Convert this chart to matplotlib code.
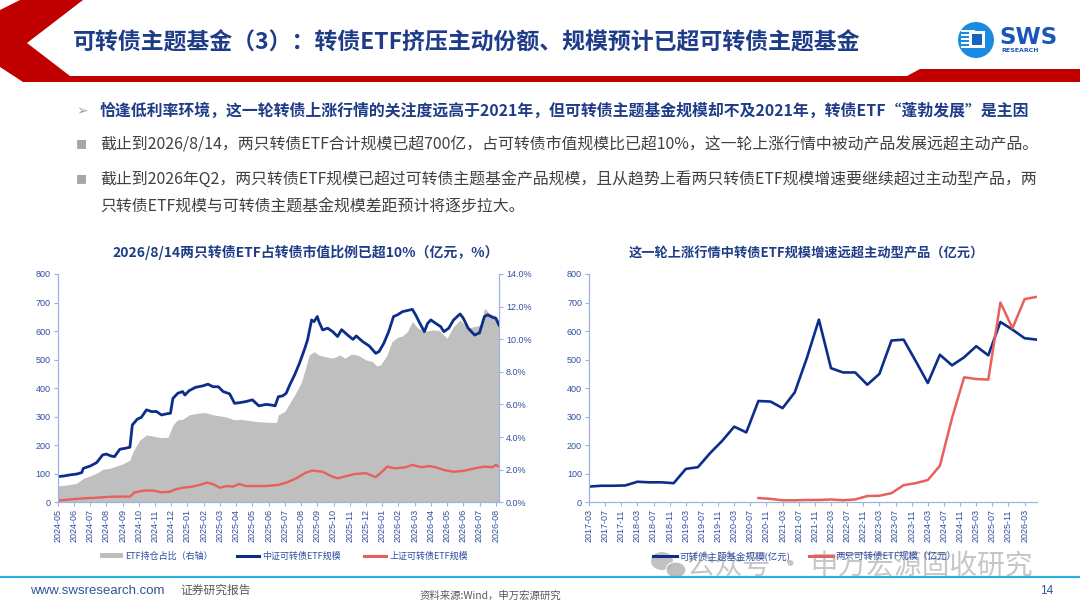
import matplotlib
matplotlib.use('Agg')
import matplotlib.pyplot as plt
from matplotlib.patches import Polygon, Circle, Rectangle, Patch, Ellipse
from matplotlib.lines import Line2D

plt.rcParams['font.family'] = ['Noto Sans CJK SC', 'DejaVu Sans']

# ---------------- data: left chart (x = months since 2024-05) ----------------
left_tick_labels = ['2024-05', '2024-06', '2024-07', '2024-08', '2024-09', '2024-10', '2024-11', '2024-12',
                    '2025-01', '2025-02', '2025-03', '2025-04', '2025-05', '2025-06', '2025-07', '2025-08',
                    '2025-09', '2025-10', '2025-11', '2025-12', '2026-01', '2026-02', '2026-03', '2026-04',
                    '2026-05', '2026-06', '2026-07', '2026-08']

zz_month = [0.0, 0.35, 0.76, 1.17, 1.48, 1.58, 2.0, 2.4, 2.77, 3.0, 3.3, 3.5, 3.83, 4.14, 4.45, 4.6, 4.9,
            5.16, 5.47, 5.78, 6.09, 6.4, 6.7, 6.95, 7.1, 7.4, 7.7, 7.84, 8.1, 8.5, 8.95, 9.26, 9.57, 9.9,
            10.2, 10.6, 10.9, 11.2, 11.6, 12.0, 12.4, 12.85, 13.15, 13.4, 13.6, 13.87, 14.08, 14.3, 14.6,
            14.9, 15.2, 15.4, 15.65, 15.8, 16.0, 16.1, 16.33, 16.64, 16.95, 17.25, 17.5, 17.87, 18.2, 18.4,
            18.8, 19.2, 19.6, 19.8, 20.1, 20.4, 20.7, 20.95, 21.25, 21.55, 21.86, 22.06, 22.27, 22.6, 22.8,
            23.0, 23.3, 23.6, 23.8, 24.1, 24.4, 24.8, 25.0, 25.3, 25.7, 26.0, 26.3, 26.5, 26.8, 27.0, 27.2]
zz_etf = [90, 92, 96, 99, 104, 119, 127, 139, 166, 169, 162, 160, 186, 189, 193, 271, 291,
          298, 324, 318, 318, 306, 310, 312, 364, 382, 388, 376, 391, 403, 408, 414, 405, 405,
          388, 380, 347, 349, 353, 359, 338, 343, 341, 338, 370, 373, 382, 411, 446,
          487, 534, 569, 639, 633, 651, 633, 604, 610, 598, 581, 605, 586, 571, 583,
          563, 548, 522, 528, 557, 598, 651, 657, 668, 672, 676, 657, 633, 598, 627,
          639, 627, 616, 598, 610, 639, 660, 645, 610, 586, 594, 651, 657, 648, 645, 621]

share_month = [0.0, 0.76, 1.17, 1.58, 2.0, 2.4, 2.8, 3.2, 3.6, 4.0, 4.45, 4.65, 5.06, 5.47, 5.9, 6.3, 6.8,
               7.1, 7.4, 7.7, 8.1, 8.6, 9.1, 9.6, 10.0, 10.4, 10.9, 11.3, 11.8, 12.3, 13.0, 13.5, 13.6,
               14.0, 14.3, 14.6, 15.0, 15.3, 15.5, 15.8, 16.1, 16.5, 16.95, 17.4, 17.7, 18.1, 18.5,
               19.0, 19.4, 19.65, 19.9, 20.3, 20.6, 20.95, 21.25, 21.55, 21.86, 22.2, 22.6, 23.1,
               23.5, 24.0, 24.4, 24.8, 25.3, 25.7, 26.1, 26.3, 26.6, 27.0, 27.2]
share_pct = [1.00, 1.09, 1.17, 1.47, 1.61, 1.79, 2.03, 2.08, 2.22, 2.35, 2.59, 3.12, 3.82, 4.13, 4.06, 3.97, 3.99,
             4.74, 5.06, 5.09, 5.36, 5.46, 5.50, 5.36, 5.30, 5.22, 5.06, 5.09, 5.01, 4.95, 4.90, 4.90, 5.36,
             5.57, 6.07, 6.58, 7.30, 8.31, 9.03, 9.24, 9.03, 8.93, 8.84, 9.03, 8.84, 9.08, 9.03,
             8.73, 8.63, 8.37, 8.42, 9.03, 9.85, 10.12, 10.20, 10.47, 11.08, 10.68, 10.47, 10.57,
             10.54, 10.06, 10.78, 11.18, 10.68, 10.78, 10.87, 11.90, 11.59, 11.43, 11.08]

sz_month = [0.0, 0.76, 1.58, 2.4, 3.1, 3.83, 4.45, 4.75, 5.3, 5.9, 6.4, 6.9, 7.3, 7.7, 8.3, 8.75, 9.2, 9.6,
            10.0, 10.4, 10.8, 11.2, 11.6, 12.2, 12.85, 13.6, 14.1, 14.7, 15.3, 15.7, 16.33, 16.85, 17.25,
            17.8, 18.3, 19.0, 19.6, 20.1, 20.3, 20.8, 21.45, 21.86, 22.4, 22.9, 23.3, 23.8, 24.4, 25.0,
            25.7, 26.3, 26.8, 27.0, 27.2]
sz_etf = [6, 10, 14, 16, 19, 20, 20, 35, 41, 41, 35, 37, 46, 51, 55, 61, 69, 63,
          51, 57, 55, 64, 57, 57, 57, 61, 69, 84, 104, 111, 107, 92, 84,
          92, 99, 102, 88, 113, 125, 119, 123, 131, 123, 127, 123, 113, 107, 110,
          119, 125, 123, 131, 125]

# ---------------- data: right chart (quarterly) ----------------
quarters = ['2017-03', '2017-06', '2017-09', '2017-12', '2018-03', '2018-06', '2018-09', '2018-12',
            '2019-03', '2019-06', '2019-09', '2019-12', '2020-03', '2020-06', '2020-09', '2020-12',
            '2021-03', '2021-06', '2021-09', '2021-12', '2022-03', '2022-06', '2022-09', '2022-12',
            '2023-03', '2023-06', '2023-09', '2023-12', '2024-03', '2024-06', '2024-09', '2024-12',
            '2025-03', '2025-06', '2025-09', '2025-12', '2026-03', '2026-06']
theme_fund = [55, 58, 58, 59, 72, 70, 70, 67, 117, 123, 172, 215, 265, 245, 355, 353,
              330, 385, 505, 640, 470, 455, 455, 412, 450, 567, 570, 495, 418, 517, 480, 508,
              547, 515, 632, 605, 575, 570]
two_etf = [None] * 14 + [15, 12, 7, 7, 8, 8, 10, 7, 10, 22, 23, 32, 60, 67, 78, 128, 295, 438,
                         432, 430, 700, 610, 712, 720]
right_tick_labels = ['2017-03', '2017-07', '2017-11', '2018-03', '2018-07', '2018-11', '2019-03', '2019-07',
                     '2019-11', '2020-03', '2020-07', '2020-11', '2021-03', '2021-07', '2021-11', '2022-03',
                     '2022-07', '2022-11', '2023-03', '2023-07', '2023-11', '2024-03', '2024-07', '2024-11',
                     '2025-03', '2025-07', '2025-11', '2026-03']

# ---------------- styles ----------------
NAVY = '#0B2E8A'
RED = '#E8605C'
GRAY = '#BFBFBF'
TITLE_BLUE = '#1F3C88'
TICK_BLUE = '#2E4FA0'
SPINE = '#9DB3E0'
NUMFONT = 'Liberation Sans'


def month_pos(label, base_year, base_month):
    y, m = label.split('-')
    return (int(y) - base_year) * 12 + int(m) - base_month


W, H = 1080, 608
fig = plt.figure(figsize=(W / 100, H / 100), dpi=100)


def frac(x0, y0, x1, y1):
    return [x0 / W, 1 - y1 / H, (x1 - x0) / W, (y1 - y0) / H]


def style_axes(ax):
    for s in ax.spines.values():
        s.set_color(SPINE)
        s.set_linewidth(0.9)
    ax.tick_params(axis='both', length=3, width=0.8, color=SPINE, labelsize=6.5,
                   labelcolor=TICK_BLUE, pad=2)


# ---------------- left chart ----------------
axL = fig.add_axes(frac(57.7, 274, 499, 502.3))
axR = axL.twinx()
axR.fill_between(share_month, share_pct, 0, color=GRAY, linewidth=0)
axR.set_ylim(0, 14)
axR.set_yticks(range(0, 15, 2))
axR.set_yticklabels([f'{v:.1f}%' for v in range(0, 15, 2)], fontfamily=NUMFONT)
axL.set_zorder(axR.get_zorder() + 1)
axL.patch.set_visible(False)
axL.plot(sz_month, sz_etf, color=RED, lw=1.7, solid_joinstyle='round')
axL.plot(zz_month, zz_etf, color=NAVY, lw=2.0, solid_joinstyle='round')
axL.set_xlim(0, 27.2)
axL.set_ylim(0, 800)
axL.set_yticks(range(0, 801, 100))
axL.set_yticklabels([str(v) for v in range(0, 801, 100)], fontfamily=NUMFONT)
axL.set_xticks(range(len(left_tick_labels)))
axL.set_xticklabels(left_tick_labels, rotation=90, fontfamily=NUMFONT)
for a in (axL, axR):
    style_axes(a)
    a.spines['top'].set_visible(False)
axL.spines['right'].set_visible(False)
axR.spines['left'].set_visible(False)
axR.spines['bottom'].set_visible(False)

# ---------------- right chart ----------------
ax2 = fig.add_axes(frac(589, 274, 1036.7, 502.3))
qx = [month_pos(q, 2017, 3) for q in quarters]
ax2.plot(qx, theme_fund, color=NAVY, lw=1.9, solid_joinstyle='round')
rx = [x for x, v in zip(qx, two_etf) if v is not None]
rv = [v for v in two_etf if v is not None]
ax2.plot(rx, rv, color=RED, lw=1.8, solid_joinstyle='round')
ax2.set_xlim(0, 111)
ax2.set_ylim(0, 800)
ax2.set_yticks(range(0, 801, 100))
ax2.set_yticklabels([str(v) for v in range(0, 801, 100)], fontfamily=NUMFONT)
ax2.set_xticks([month_pos(t, 2017, 3) for t in right_tick_labels])
ax2.set_xticklabels(right_tick_labels, rotation=90, fontfamily=NUMFONT)
style_axes(ax2)
ax2.spines['top'].set_visible(False)
ax2.spines['right'].set_visible(False)

# ---------------- overlay (pixel coordinates) ----------------
ov = fig.add_axes([0, 0, 1, 1])
ov.set_xlim(0, W)
ov.set_ylim(H, 0)
ov.axis('off')
ov.patch.set_visible(False)

hdr = [(20, 0), (0, 10), (0, 67), (23, 82), (1080, 82), (1080, 69), (920, 69), (907, 76),
       (70, 76), (27, 43), (83, 0)]
ov.add_patch(Polygon(hdr, closed=True, facecolor='#C00000', edgecolor='none'))

ov.text(73, 43, '可转债主题基金（3）：转债ETF挤压主动份额、规模预计已超可转债主题基金',
        fontsize=16.5, fontweight='bold', color=TITLE_BLUE, ha='left', va='center')

# logo
ov.add_patch(Circle((976, 40), 18, facecolor='#1B8BE0', edgecolor='none'))
for yy in (31, 35, 39, 43, 47):
    ov.add_patch(Rectangle((961, yy - 1), 14, 1.8, facecolor='white', edgecolor='none'))
ov.add_patch(Rectangle((969, 31), 16, 17, facecolor='white', edgecolor='none'))
ov.add_patch(Rectangle((972, 34), 10, 11, facecolor='#1565C0', edgecolor='none'))
ov.text(999, 38, 'SWS', fontsize=16.5, fontweight='bold', color='#1A56B8', ha='left', va='center',
        family=['DejaVu Sans'])
ov.text(1001, 51, 'RESEARCH', fontsize=4.5, fontweight='bold', color='#1A56B8', ha='left', va='center',
        family=['DejaVu Sans'])

# bullets
BFS = 11.45
ov.text(76, 111, '➢', fontsize=10, color='#A0A0A0', ha='left', va='center', family=['DejaVu Sans'])
ov.text(100, 111, '恰逢低利率环境，这一轮转债上涨行情的关注度远高于2021年，但可转债主题基金规模却不及2021年，转债ETF“蓬勃发展”是主因',
        fontsize=BFS, fontweight='bold', color=TITLE_BLUE, ha='left', va='center')
bullet_lines = [
    (145, '■', '截止到2026/8/14，两只转债ETF合计规模已超700亿，占可转债市值规模比已超10%，这一轮上涨行情中被动产品发展远超主动产品。'),
    (180, '■', '截止到2026年Q2，两只转债ETF规模已超过可转债主题基金产品规模，且从趋势上看两只转债ETF规模增速要继续超过主动型产品，两'),
    (207, '', '只转债ETF规模与可转债主题基金规模差距预计将逐步拉大。'),
]
for yy, mark, txt in bullet_lines:
    if mark:
        ov.text(76, yy, mark, fontsize=8, color='#A6A6A6', ha='left', va='center')
    ov.text(100, yy, txt, fontsize=BFS, color='#404040', ha='left', va='center')

# chart titles
ov.text(306, 252, '2026/8/14两只转债ETF占转债市值比例已超10%（亿元，%）', fontsize=10,
        fontweight='bold', color=TITLE_BLUE, ha='center', va='center')
ov.text(806, 253, '这一轮上涨行情中转债ETF规模增速远超主动型产品（亿元）', fontsize=9.5,
        fontweight='bold', color=TITLE_BLUE, ha='center', va='center')

# legends
hL = [Patch(facecolor=GRAY, edgecolor='none'),
      Line2D([], [], color=NAVY, lw=2.2),
      Line2D([], [], color=RED, lw=2.2)]
legL = fig.legend(hL, ['ETF持仓占比（右轴）', '中证可转债ETF规模', '上证可转债ETF规模'],
                  loc='center', bbox_to_anchor=(284 / W, 1 - 556 / H), ncol=3, frameon=False,
                  fontsize=6.5, handlelength=2.5, handleheight=0.6, handletextpad=0.3,
                  columnspacing=2.6, labelcolor=TICK_BLUE)
hR = [Line2D([], [], color=NAVY, lw=2.2), Line2D([], [], color=RED, lw=2.2)]
legR = fig.legend(hR, ['可转债主题基金规模(亿元)', '两只可转债ETF规模（亿元）'],
                  loc='center', bbox_to_anchor=(805 / W, 1 - 556 / H), ncol=2, frameon=False,
                  fontsize=6.8, handlelength=2.5, handletextpad=0.3, columnspacing=2.0,
                  labelcolor=TICK_BLUE)

# watermark
ov2 = fig.add_axes([0, 0, 1, 1])
ov2.set_xlim(0, W)
ov2.set_ylim(H, 0)
ov2.axis('off')
ov2.patch.set_visible(False)
ov2.add_patch(Ellipse((662, 561), 22, 18, facecolor='#A8A8A8', edgecolor='none', alpha=0.7))
ov2.add_patch(Ellipse((676, 570), 20, 16, facecolor='#A8A8A8', edgecolor='white', lw=1.2, alpha=0.75))
ov2.text(687, 566, '公众号 · 申万宏源固收研究', fontsize=20, color='#A0A0A0', alpha=0.6,
         ha='left', va='center')

# footer
ov2.plot([0, W], [577, 577], color='#2AAFE3', lw=1.6)
ov2.text(30, 591, 'www.swsresearch.com', fontsize=9.5, color='#2F5597', ha='left', va='center',
         family=[NUMFONT])
ov2.text(180, 590, '证券研究报告', fontsize=8.5, color='#595959', ha='left', va='center')
ov2.text(420, 596, '资料来源:Wind，申万宏源研究', fontsize=7.5, color='#595959', ha='left', va='center')
ov2.text(1040, 591, '14', fontsize=8.5, color='#2F5597', ha='left', va='center', family=[NUMFONT])

fig.savefig('out.png', dpi=100, facecolor='white')
